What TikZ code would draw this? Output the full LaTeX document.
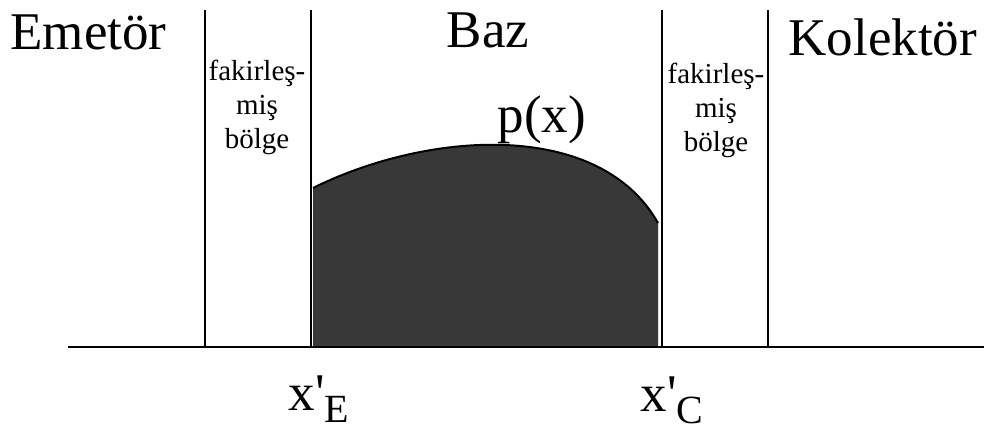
\documentclass[tikz,border=0pt]{standalone}
\usepackage{fontspec}
\setmainfont{Liberation Serif}
\usetikzlibrary{positioning,calc}
\tikzset{
  every picture/.style={line width=1.2pt},
  sBig/.style={font=\fontsize{53}{60}\selectfont, inner sep=0pt},
  sSmall/.style={font=\fontsize{29}{34}\selectfont, inner sep=0pt, align=center},
  sWall/.style={line width=1.3pt},
  sAxis/.style={line width=2.6pt},
  sProfile/.style={line width=2pt},
  sShade/.style={fill=black!78},
}
\newcommand{\subdown}[2]{\raisebox{-#1pt}{\fontsize{40}{44}\selectfont #2}}

\begin{document}
\begin{tikzpicture}[x=1pt,y=-1pt]
  \useasboundingbox (0,0) rectangle (984,432);
  % axis
  \coordinate (axL) at (68,347);
  \coordinate (axR) at (984,347);
  % base profile p(x)
  \coordinate (pL) at (313,188);
  \coordinate (pR) at (658,223);
  \coordinate (bL) at (313,347);
  \coordinate (bR) at (658,347);
  \fill[sShade] (bL) -- (pL) .. controls (430,130) and (600,120) .. (pR) -- (bR) -- cycle;
  \draw[sProfile] (pL) .. controls (430,130) and (600,120) .. (pR);
  % junction walls
  \foreach \n/\x in {eo/205, ei/311, ci/662, co/768}{
    \coordinate (w\n t) at (\x,10);
    \coordinate (w\n b) at (\x,347);
    \draw[sWall] (w\n t) -- (w\n b);
  }
  \draw[sAxis] (axL) -- (axR);
  % region names
  \node[sBig, anchor=base west] (emitter) at (10,49) {Emetör};
  \node[sBig, anchor=base] (base) at (488,47) {Baz};
  \node[sBig, anchor=base west] (collector) at (788,55) {Kolektör};
  \node[sSmall, anchor=north] (depE) at (257,59) {fakirleş-\\miş\\bölge};
  \node[sSmall, anchor=north] (depC) at (716,62) {fakirleş-\\miş\\bölge};
  \node[sBig, anchor=base west] (px) at (497,132) {p(x)};
  % edges of the base
  \node[sBig, anchor=base west] (xE) at (288,410) {x\textquotesingle\subdown{12}{E}};
  \node[sBig, anchor=base west] (xC) at (640,411) {x\textquotesingle\subdown{12}{C}};
\end{tikzpicture}
\end{document}
